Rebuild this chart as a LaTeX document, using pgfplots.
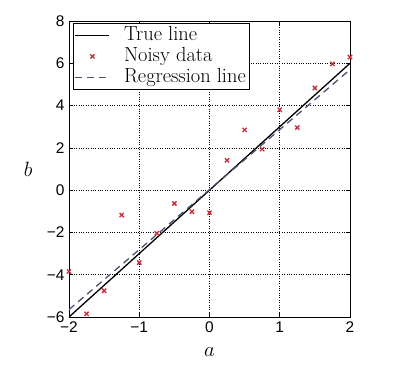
\documentclass[border=0pt]{standalone}
\usepackage{fontspec}
\usepackage{pgfplots}
\pgfplotsset{compat=1.18}
\newfontfamily\tickfont{Liberation Sans}
\definecolor{markred}{RGB}{200,45,60}
\definecolor{regblue}{RGB}{70,82,112}
\pgfplotsset{
  mylinelegend/.style={legend image code/.code={\draw[##1] (0bp,0bp) -- (34bp,0bp); \path (46bp,0bp);}},
  mymarklegend/.style={legend image code/.code={\draw[##1] plot coordinates {(17bp,0bp)}; \path (0bp,0bp) (46bp,0bp);}},
}
\begin{document}
\begin{tikzpicture}
\useasboundingbox (-69bp,-55bp) rectangle (330bp,317bp);
\begin{axis}[
  at={(0,0)}, anchor=south west,
  scale only axis, width=281bp, height=296bp,
  xmin=-2, xmax=2, ymin=-6, ymax=8,
  xtick={-2,-1,0,1,2}, xticklabels={−2,−1,0,1,2},
  ytick={-6,-4,-2,0,2,4,6,8}, yticklabels={−6,−4,−2,0,2,4,6,8},
  tick align=inside, major tick length=4bp,
  tick style={black, line width=0.5pt},
  ticklabel style={font=\fontsize{15.5}{18}\selectfont\tickfont},
  xticklabel style={yshift=-1.5bp},
  yticklabel style={xshift=-1bp},
  xtick pos=both, ytick pos=both,
  grid=major, major grid style={black, dotted, line width=0.7pt},
  axis line style={black, line width=0.8pt},
  xlabel={$a$}, ylabel={$b$},
  label style={font=\fontsize{22}{24}\selectfont},
  xlabel style={at={(axis description cs:0.5,0)}, anchor=north, yshift=-27bp},
  ylabel style={rotate=-90, at={(axis description cs:0,0.5)}, anchor=east, xshift=-33bp},
  legend style={at={(axis description cs:0.014,0.993)}, anchor=north west,
    draw=black, line width=0.7pt, font=\fontsize{20.5}{22}\selectfont,
    row sep=0pt, inner sep=1.5pt, fill=white,
    nodes={text height=14.5bp, text depth=4.5bp, inner ysep=1bp, inner xsep=2bp}},
  legend cell align=left,
]
\addplot[black, line width=1.3pt, no marks, mylinelegend] coordinates {(-2,-6) (2,6)};
\addlegendentry{True line}
\addplot[only marks, mark=x, mark size=3pt, color=markred, line width=1.3pt, mymarklegend] coordinates {
(-2,-3.85) (-1.75,-5.85) (-1.5,-4.76) (-1.25,-1.18) (-1,-3.43) (-0.75,-2.04)
(-0.5,-0.63) (-0.25,-1.02) (0,-1.07) (0.25,1.41) (0.5,2.85) (0.75,1.94)
(1,3.8) (1.25,2.96) (1.5,4.83) (1.75,5.97) (2,6.29)};
\addlegendentry{Noisy data}
\addplot[regblue, line width=1.3pt, dash pattern=on 7pt off 5pt, no marks, mylinelegend] coordinates {(-2,-5.65) (2,5.7)};
\addlegendentry{Regression line}
\end{axis}
\end{tikzpicture}
\end{document}
